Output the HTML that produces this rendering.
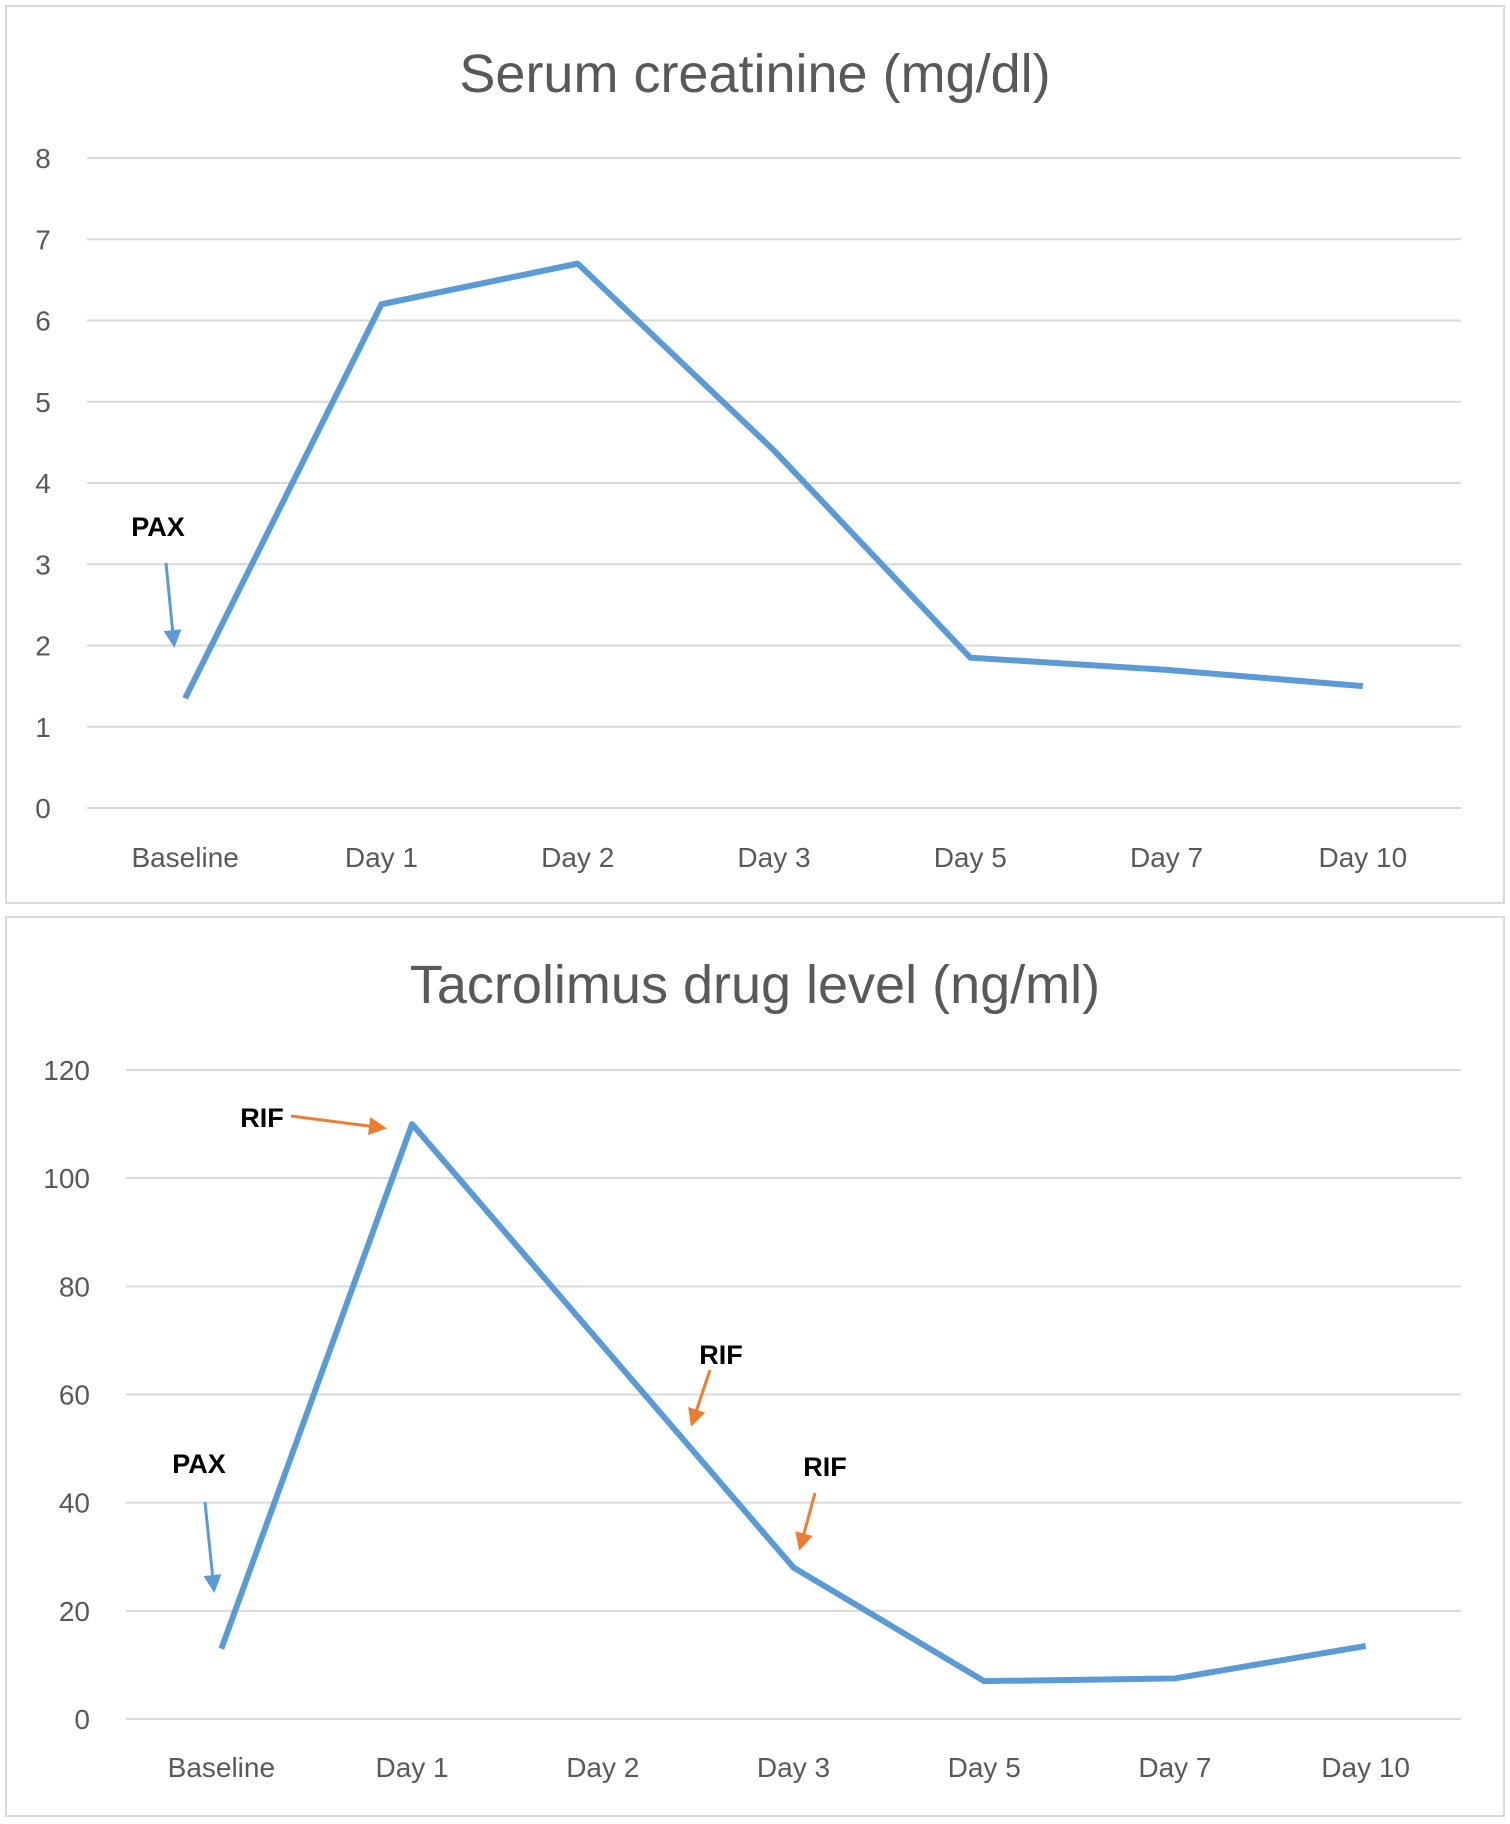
<!DOCTYPE html>
<html><head><meta charset="utf-8"><style>
html,body{margin:0;padding:0;background:#fff}
svg{display:block}
text{font-family:"Liberation Sans",sans-serif}
</style></head><body>
<svg id="s" width="1510" height="1824" viewBox="0 0 1510 1824">
<defs>
<marker id="ab" markerWidth="6" markerHeight="6" refX="5" refY="3" orient="auto" markerUnits="strokeWidth"><path d="M0,0 L6,3 L0,6 z" fill="#5b9bd5"/></marker>
<marker id="ao" markerWidth="6" markerHeight="6" refX="5" refY="3" orient="auto" markerUnits="strokeWidth"><path d="M0,0 L6,3 L0,6 z" fill="#ed7d31"/></marker>
</defs>
<rect x="6" y="6" width="1498" height="897" fill="#fff" stroke="#d9d9d9" stroke-width="2"/>
<rect x="6" y="917" width="1498" height="899" fill="#fff" stroke="#d9d9d9" stroke-width="2"/>
<text x="755" y="92" text-anchor="middle" font-size="54" fill="#595959">Serum creatinine (mg/dl)</text>
<text x="755" y="1003" text-anchor="middle" font-size="54" fill="#595959">Tacrolimus drug level (ng/ml)</text>
<g id="c1"></g><g id="c2"></g>
<text x="158" y="536" text-anchor="middle" font-size="27" font-weight="bold">PAX</text>
<line x1="166" y1="563" x2="174" y2="645" stroke="#5b9bd5" stroke-width="3" marker-end="url(#ab)"/>
<text x="199" y="1473" text-anchor="middle" font-size="27" font-weight="bold">PAX</text>
<line x1="205" y1="1502" x2="214" y2="1590" stroke="#5b9bd5" stroke-width="3" marker-end="url(#ab)"/>
<text x="262" y="1127" text-anchor="middle" font-size="27" font-weight="bold">RIF</text>
<line x1="291" y1="1116" x2="384" y2="1128" stroke="#ed7d31" stroke-width="3" marker-end="url(#ao)"/>
<text x="721" y="1364" text-anchor="middle" font-size="27" font-weight="bold">RIF</text>
<line x1="710" y1="1370" x2="692" y2="1424" stroke="#ed7d31" stroke-width="3" marker-end="url(#ao)"/>
<text x="825" y="1476" text-anchor="middle" font-size="27" font-weight="bold">RIF</text>
<line x1="815" y1="1493" x2="800" y2="1548" stroke="#ed7d31" stroke-width="3" marker-end="url(#ao)"/>
</svg>
<script>
const categories = ["Baseline","Day 1","Day 2","Day 3","Day 5","Day 7","Day 10"];
const creatinineValues = [1.35, 6.2, 6.7, 4.4, 1.85, 1.7, 1.5];
const creatinineTicks = [0,1,2,3,4,5,6,7,8];
const tacrolimusValues = [13, 110, 69, 28, 7, 7.5, 13.5];
const tacrolimusTicks = [0,20,40,60,80,100,120];
const NS="http://www.w3.org/2000/svg";
function el(t,a,p){const e=document.createElementNS(NS,t);for(const k in a)e.setAttribute(k,a[k]);p.appendChild(e);return e;}
function chart(g,name,vals,ticks,x0,x1,yTop,yBot,labX,anchor,xLabY){
  const max=ticks[ticks.length-1];
  const y=v=>yBot-(v/max)*(yBot-yTop);
  const bw=(x1-x0)/categories.length;
  const x=i=>x0+bw*(i+0.5);
  ticks.forEach(t=>{
    const l=el('line',{x1:x0,x2:x1,y1:y(t),y2:y(t),stroke:'#d9d9d9','stroke-width':2},g);
    
    
    const tx=el('text',{x:labX,y:y(t)+10,'text-anchor':anchor,'font-size':28,fill:'#595959'},g);
    tx.textContent=t;
    
    
  });
  categories.forEach((c,i)=>{
    const tx=el('text',{x:x(i),y:xLabY,'text-anchor':'middle','font-size':28,fill:'#595959'},g);
    tx.textContent=c;
    
    
  });
  const p=el('polyline',{points:vals.map((v,i)=>x(i)+','+y(v)).join(' '),fill:'none',stroke:'#5b9bd5','stroke-width':6,'stroke-linejoin':'round'},g);
  
  
}
chart(document.getElementById('c1'),'creatinine',creatinineValues,creatinineTicks,87,1461,158,808,43,'middle',867);
chart(document.getElementById('c2'),'tacrolimus',tacrolimusValues,tacrolimusTicks,126,1461,1070,1719,90,'end',1777);
</script>
</body></html>
